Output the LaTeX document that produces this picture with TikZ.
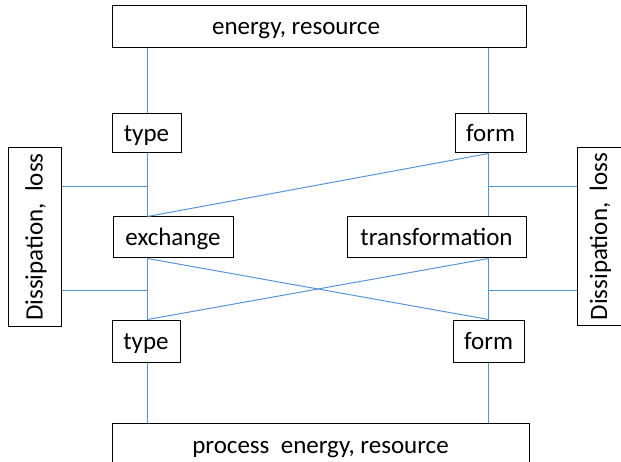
\documentclass[tikz,border=0pt]{standalone}
\usepackage{fontspec}
\setmainfont{Carlito}
\tikzset{
  box/.style={draw=black, line width=1pt, fill=white, inner sep=0pt, text height=16pt, text depth=0pt, font=\fontsize{25}{29}\selectfont},
  link/.style={draw={rgb,255:red,91;green,147;blue,210}, line width=1pt}
}
\begin{document}
\begin{tikzpicture}[x=1pt,y=-1pt]
    \clip (0,0) rectangle (621,462);
    \useasboundingbox (0,0) rectangle (621,462);
    % columns and tap heights
    \coordinate (L) at (147.5,0);
    \coordinate (R) at (488.5,0);
    \coordinate (up) at (0,186.5);
    \coordinate (down) at (0,290.5);
    % boxes
    \node[box, minimum width=414, minimum height=42] (top) at (319,27) {energy, resource\kern46pt\relax};
    \node[box, minimum width=69, minimum height=39] (type1) at (146.5,133.5) {type};
    \node[box, minimum width=71, minimum height=39] (form1) at (490.5,133.5) {form};
    \node[box, minimum width=120, minimum height=41] (exch) at (173,237.5) {exchange};
    \node[box, minimum width=179, minimum height=41] (trans) at (436.5,237.5) {transformation};
    \node[box, minimum width=68, minimum height=42] (type2) at (146,341) {type};
    \node[box, minimum width=71, minimum height=42] (form2) at (488.5,341) {form};
    \node[box, minimum width=417, minimum height=44] (bottom) at (320.5,445) {process\ \ energy, resource};
    \node[box, rotate=90, minimum width=178, minimum height=53] (lossL) at (34.5,237) {Dissipation,\ \ loss};
    \node[box, rotate=90, minimum width=178, minimum height=44] (lossR) at (599,236.5) {Dissipation,\ \ loss};
    % connectors
    \path[link] (top.south -| L) -- (type1.north -| L);
    \path[link] (type1.south -| L) -- (exch.north -| L);
    \path[link] (exch.south -| L) -- (type2.north -| L);
    \path[link] (type2.south -| L) -- (bottom.north -| L);
    \path[link] (top.south -| R) -- (form1.north -| R);
    \path[link] (form1.south -| R) -- (trans.north -| R);
    \path[link] (trans.south -| R) -- (form2.north -| R);
    \path[link] (form2.south -| R) -- (bottom.north -| R);
    \path[link] (exch.north -| L) -- (form1.south -| R);
    \path[link] (exch.south -| L) -- (form2.north -| R);
    \path[link] (trans.south -| R) -- (type2.north -| L);
    \path[link] (lossL.south |- up) -- (L |- up);
    \path[link] (lossL.south |- down) -- (L |- down);
    \path[link] (lossR.north |- up) -- (R |- up);
    \path[link] (lossR.north |- down) -- (R |- down);
\end{tikzpicture}
\end{document}
